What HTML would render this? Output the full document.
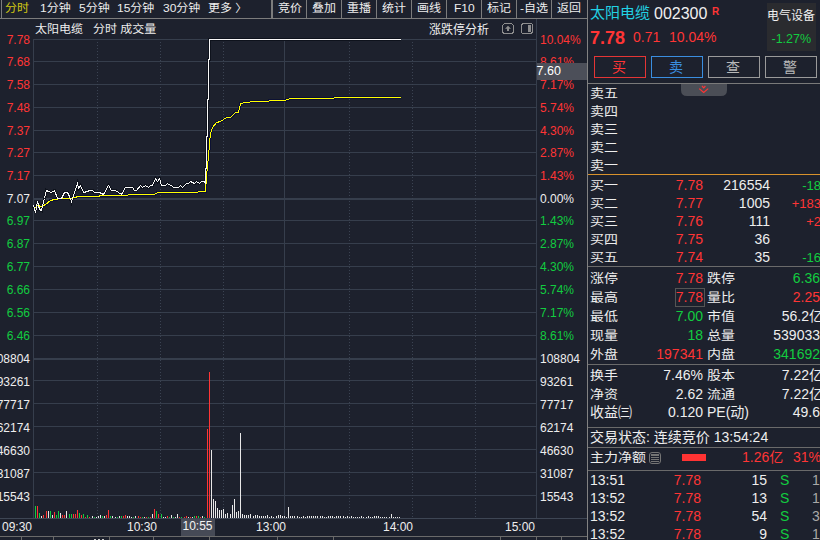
<!DOCTYPE html>
<html><head><meta charset="utf-8"><style>
html,body{margin:0;padding:0;background:#1d212d;}
body{width:820px;height:540px;position:relative;overflow:hidden;font-family:"Liberation Sans","Noto Sans CJK SC",sans-serif;}
.t{position:absolute;white-space:pre;line-height:1;}
.sqt{transform:scaleY(0.92);transform-origin:50% 0;}
.sqb{transform:scaleY(0.9);transform-origin:50% 100%;}
.sq{transform:translateY(0.7px) scaleY(0.86);transform-origin:50% 50%;}
</style></head><body>
<svg width="820" height="540" viewBox="0 0 820 540" style="position:absolute;left:0;top:0" shape-rendering="crispEdges"><rect x="0" y="18" width="587" height="1" fill="#7c7c7c" /><rect x="1" y="0" width="1" height="18" fill="#7c7c7c" /><rect x="271" y="0" width="2" height="18" fill="#7c7c7c" /><rect x="306" y="0" width="1" height="18" fill="#7c7c7c" /><rect x="341" y="0" width="1" height="18" fill="#7c7c7c" /><rect x="376" y="0" width="1" height="18" fill="#7c7c7c" /><rect x="411" y="0" width="1" height="18" fill="#7c7c7c" /><rect x="446" y="0" width="1" height="18" fill="#7c7c7c" /><rect x="481" y="0" width="1" height="18" fill="#7c7c7c" /><rect x="516" y="0" width="1" height="18" fill="#7c7c7c" /><rect x="551" y="0" width="1" height="18" fill="#7c7c7c" /><rect x="587" y="0" width="1" height="540" fill="#828282" /><rect x="33" y="39" width="503" height="1" fill="#363e4c" /><rect x="33" y="61" width="503" height="1" fill="#363e4c" /><rect x="33" y="84" width="503" height="1" fill="#363e4c" /><rect x="33" y="107" width="503" height="1" fill="#363e4c" /><rect x="33" y="130" width="503" height="1" fill="#363e4c" /><rect x="33" y="152" width="503" height="1" fill="#363e4c" /><rect x="33" y="175" width="503" height="1" fill="#363e4c" /><rect x="33" y="198" width="503" height="2" fill="#363e4c" /><rect x="33" y="220" width="503" height="1" fill="#363e4c" /><rect x="33" y="243" width="503" height="1" fill="#363e4c" /><rect x="33" y="266" width="503" height="1" fill="#363e4c" /><rect x="33" y="289" width="503" height="1" fill="#363e4c" /><rect x="33" y="312" width="503" height="1" fill="#363e4c" /><rect x="33" y="335" width="503" height="1" fill="#363e4c" /><rect x="33" y="358" width="503" height="2" fill="#363e4c" /><rect x="33" y="380" width="503" height="1" fill="#363e4c" /><rect x="33" y="403" width="503" height="1" fill="#363e4c" /><rect x="33" y="426" width="503" height="1" fill="#363e4c" /><rect x="33" y="449" width="503" height="1" fill="#363e4c" /><rect x="33" y="472" width="503" height="1" fill="#363e4c" /><rect x="33" y="495" width="503" height="1" fill="#363e4c" /><rect x="0" y="518" width="587" height="1" fill="#3e4654" /><rect x="33" y="39" width="1" height="479" fill="#363e4c" /><rect x="536" y="19" width="1" height="499" fill="#363e4c" /><line x1="97.5" y1="42" x2="97.5" y2="518" stroke="#3b4352" stroke-width="1" stroke-dasharray="1 2"/><line x1="160.5" y1="42" x2="160.5" y2="518" stroke="#3b4352" stroke-width="1" stroke-dasharray="1 2"/><line x1="223.5" y1="42" x2="223.5" y2="518" stroke="#3b4352" stroke-width="1" stroke-dasharray="1 2"/><line x1="349.5" y1="42" x2="349.5" y2="518" stroke="#3b4352" stroke-width="1" stroke-dasharray="1 2"/><line x1="412.5" y1="42" x2="412.5" y2="518" stroke="#3b4352" stroke-width="1" stroke-dasharray="1 2"/><line x1="475.5" y1="42" x2="475.5" y2="518" stroke="#3b4352" stroke-width="1" stroke-dasharray="1 2"/><rect x="284" y="39" width="1" height="479" fill="#363e4c" /><rect x="35" y="506" width="1" height="12" fill="#12cc40" /><rect x="37" y="506" width="1" height="12" fill="#ff3535" /><rect x="39" y="513" width="1" height="5" fill="#12cc40" /><rect x="41" y="516" width="1" height="2" fill="#e8e8e8" /><rect x="43" y="515" width="1" height="3" fill="#ff3535" /><rect x="46" y="511" width="1" height="7" fill="#ff3535" /><rect x="48" y="511" width="1" height="7" fill="#e8e8e8" /><rect x="50" y="511" width="1" height="7" fill="#12cc40" /><rect x="52" y="515" width="1" height="3" fill="#e8e8e8" /><rect x="54" y="512" width="1" height="6" fill="#ff3535" /><rect x="56" y="515" width="1" height="3" fill="#12cc40" /><rect x="58" y="511" width="1" height="7" fill="#12cc40" /><rect x="60" y="513" width="1" height="5" fill="#e8e8e8" /><rect x="62" y="515" width="1" height="3" fill="#ff3535" /><rect x="64" y="515" width="1" height="3" fill="#ff3535" /><rect x="66" y="511" width="1" height="7" fill="#e8e8e8" /><rect x="69" y="514" width="1" height="4" fill="#12cc40" /><rect x="71" y="514" width="1" height="4" fill="#12cc40" /><rect x="73" y="514" width="1" height="4" fill="#ff3535" /><rect x="75" y="514" width="1" height="4" fill="#ff3535" /><rect x="77" y="510" width="1" height="8" fill="#ff3535" /><rect x="79" y="513" width="1" height="5" fill="#12cc40" /><rect x="81" y="515" width="1" height="3" fill="#ff3535" /><rect x="83" y="514" width="1" height="4" fill="#12cc40" /><rect x="85" y="517" width="1" height="1" fill="#ff3535" /><rect x="87" y="515" width="1" height="3" fill="#12cc40" /><rect x="89" y="517" width="1" height="1" fill="#ff3535" /><rect x="92" y="516" width="1" height="2" fill="#e8e8e8" /><rect x="94" y="517" width="1" height="1" fill="#12cc40" /><rect x="96" y="517" width="1" height="1" fill="#e8e8e8" /><rect x="98" y="516" width="1" height="2" fill="#e8e8e8" /><rect x="100" y="515" width="1" height="3" fill="#e8e8e8" /><rect x="102" y="516" width="1" height="2" fill="#12cc40" /><rect x="104" y="516" width="1" height="2" fill="#e8e8e8" /><rect x="106" y="515" width="1" height="3" fill="#ff3535" /><rect x="108" y="510" width="1" height="8" fill="#ff3535" /><rect x="110" y="516" width="1" height="2" fill="#12cc40" /><rect x="112" y="516" width="1" height="2" fill="#e8e8e8" /><rect x="115" y="517" width="1" height="1" fill="#e8e8e8" /><rect x="117" y="517" width="1" height="1" fill="#12cc40" /><rect x="119" y="516" width="1" height="2" fill="#e8e8e8" /><rect x="121" y="516" width="1" height="2" fill="#12cc40" /><rect x="123" y="516" width="1" height="2" fill="#ff3535" /><rect x="125" y="515" width="1" height="3" fill="#ff3535" /><rect x="127" y="516" width="1" height="2" fill="#e8e8e8" /><rect x="129" y="516" width="1" height="2" fill="#e8e8e8" /><rect x="131" y="517" width="1" height="1" fill="#e8e8e8" /><rect x="133" y="517" width="1" height="1" fill="#12cc40" /><rect x="135" y="516" width="1" height="2" fill="#e8e8e8" /><rect x="138" y="516" width="1" height="2" fill="#ff3535" /><rect x="140" y="517" width="1" height="1" fill="#ff3535" /><rect x="142" y="517" width="1" height="1" fill="#12cc40" /><rect x="144" y="517" width="1" height="1" fill="#e8e8e8" /><rect x="146" y="517" width="1" height="1" fill="#ff3535" /><rect x="148" y="517" width="1" height="1" fill="#12cc40" /><rect x="150" y="517" width="1" height="1" fill="#ff3535" /><rect x="152" y="514" width="1" height="4" fill="#e8e8e8" /><rect x="154" y="509" width="1" height="9" fill="#ff3535" /><rect x="156" y="511" width="1" height="7" fill="#12cc40" /><rect x="158" y="514" width="1" height="4" fill="#ff3535" /><rect x="161" y="514" width="1" height="4" fill="#12cc40" /><rect x="163" y="517" width="1" height="1" fill="#e8e8e8" /><rect x="165" y="517" width="1" height="1" fill="#e8e8e8" /><rect x="167" y="516" width="1" height="2" fill="#ff3535" /><rect x="169" y="517" width="1" height="1" fill="#12cc40" /><rect x="171" y="515" width="1" height="3" fill="#e8e8e8" /><rect x="173" y="517" width="1" height="1" fill="#12cc40" /><rect x="175" y="517" width="1" height="1" fill="#e8e8e8" /><rect x="177" y="514" width="1" height="4" fill="#e8e8e8" /><rect x="179" y="517" width="1" height="1" fill="#ff3535" /><rect x="181" y="517" width="1" height="1" fill="#12cc40" /><rect x="184" y="517" width="1" height="1" fill="#ff3535" /><rect x="186" y="516" width="1" height="2" fill="#ff3535" /><rect x="188" y="517" width="1" height="1" fill="#e8e8e8" /><rect x="190" y="517" width="1" height="1" fill="#ff3535" /><rect x="192" y="517" width="1" height="1" fill="#e8e8e8" /><rect x="194" y="516" width="1" height="2" fill="#12cc40" /><rect x="196" y="516" width="1" height="2" fill="#ff3535" /><rect x="198" y="516" width="1" height="2" fill="#12cc40" /><rect x="200" y="517" width="1" height="1" fill="#ff3535" /><rect x="202" y="516" width="1" height="2" fill="#e8e8e8" /><rect x="204" y="517" width="1" height="1" fill="#12cc40" /><rect x="207" y="429" width="1" height="89" fill="#ff3535" /><rect x="209" y="372" width="1" height="146" fill="#ff3535" /><rect x="211" y="450" width="1" height="68" fill="#e8e8e8" /><rect x="213" y="499" width="1" height="19" fill="#e8e8e8" /><rect x="215" y="501" width="1" height="17" fill="#e8e8e8" /><rect x="217" y="508" width="1" height="10" fill="#e8e8e8" /><rect x="219" y="510" width="1" height="8" fill="#e8e8e8" /><rect x="221" y="510" width="1" height="8" fill="#e8e8e8" /><rect x="223" y="509" width="1" height="9" fill="#e8e8e8" /><rect x="225" y="514" width="1" height="4" fill="#e8e8e8" /><rect x="227" y="513" width="1" height="5" fill="#e8e8e8" /><rect x="230" y="514" width="1" height="4" fill="#e8e8e8" /><rect x="232" y="505" width="1" height="13" fill="#e8e8e8" /><rect x="234" y="499" width="1" height="19" fill="#e8e8e8" /><rect x="236" y="512" width="1" height="6" fill="#e8e8e8" /><rect x="238" y="511" width="1" height="7" fill="#e8e8e8" /><rect x="240" y="433" width="1" height="85" fill="#e8e8e8" /><rect x="242" y="514" width="1" height="4" fill="#e8e8e8" /><rect x="244" y="515" width="1" height="3" fill="#e8e8e8" /><rect x="246" y="515" width="1" height="3" fill="#e8e8e8" /><rect x="248" y="515" width="1" height="3" fill="#e8e8e8" /><rect x="250" y="514" width="1" height="4" fill="#e8e8e8" /><rect x="253" y="516" width="1" height="2" fill="#e8e8e8" /><rect x="255" y="515" width="1" height="3" fill="#e8e8e8" /><rect x="257" y="515" width="1" height="3" fill="#e8e8e8" /><rect x="259" y="516" width="1" height="2" fill="#e8e8e8" /><rect x="261" y="516" width="1" height="2" fill="#e8e8e8" /><rect x="263" y="516" width="1" height="2" fill="#e8e8e8" /><rect x="265" y="516" width="1" height="2" fill="#e8e8e8" /><rect x="267" y="515" width="1" height="3" fill="#e8e8e8" /><rect x="269" y="517" width="1" height="1" fill="#e8e8e8" /><rect x="271" y="516" width="1" height="2" fill="#e8e8e8" /><rect x="273" y="517" width="1" height="1" fill="#e8e8e8" /><rect x="276" y="516" width="1" height="2" fill="#e8e8e8" /><rect x="278" y="515" width="1" height="3" fill="#e8e8e8" /><rect x="280" y="515" width="1" height="3" fill="#e8e8e8" /><rect x="282" y="516" width="1" height="2" fill="#e8e8e8" /><rect x="284" y="516" width="1" height="2" fill="#e8e8e8" /><rect x="286" y="517" width="1" height="1" fill="#e8e8e8" /><rect x="288" y="507" width="1" height="11" fill="#e8e8e8" /><rect x="290" y="516" width="1" height="2" fill="#e8e8e8" /><rect x="292" y="516" width="1" height="2" fill="#e8e8e8" /><rect x="294" y="516" width="1" height="2" fill="#e8e8e8" /><rect x="297" y="516" width="1" height="2" fill="#e8e8e8" /><rect x="299" y="517" width="1" height="1" fill="#e8e8e8" /><rect x="301" y="517" width="1" height="1" fill="#e8e8e8" /><rect x="303" y="516" width="1" height="2" fill="#e8e8e8" /><rect x="305" y="517" width="1" height="1" fill="#e8e8e8" /><rect x="307" y="516" width="1" height="2" fill="#e8e8e8" /><rect x="309" y="516" width="1" height="2" fill="#e8e8e8" /><rect x="311" y="516" width="1" height="2" fill="#e8e8e8" /><rect x="313" y="516" width="1" height="2" fill="#e8e8e8" /><rect x="315" y="516" width="1" height="2" fill="#e8e8e8" /><rect x="317" y="516" width="1" height="2" fill="#e8e8e8" /><rect x="320" y="516" width="1" height="2" fill="#e8e8e8" /><rect x="322" y="516" width="1" height="2" fill="#e8e8e8" /><rect x="324" y="517" width="1" height="1" fill="#e8e8e8" /><rect x="326" y="517" width="1" height="1" fill="#e8e8e8" /><rect x="328" y="516" width="1" height="2" fill="#e8e8e8" /><rect x="330" y="516" width="1" height="2" fill="#e8e8e8" /><rect x="332" y="516" width="1" height="2" fill="#e8e8e8" /><rect x="334" y="517" width="1" height="1" fill="#e8e8e8" /><rect x="336" y="516" width="1" height="2" fill="#e8e8e8" /><rect x="338" y="516" width="1" height="2" fill="#e8e8e8" /><rect x="340" y="516" width="1" height="2" fill="#e8e8e8" /><rect x="343" y="516" width="1" height="2" fill="#e8e8e8" /><rect x="345" y="517" width="1" height="1" fill="#e8e8e8" /><rect x="347" y="516" width="1" height="2" fill="#e8e8e8" /><rect x="349" y="517" width="1" height="1" fill="#e8e8e8" /><rect x="351" y="516" width="1" height="2" fill="#e8e8e8" /><rect x="353" y="517" width="1" height="1" fill="#e8e8e8" /><rect x="355" y="517" width="1" height="1" fill="#e8e8e8" /><rect x="357" y="517" width="1" height="1" fill="#e8e8e8" /><rect x="359" y="517" width="1" height="1" fill="#e8e8e8" /><rect x="361" y="516" width="1" height="2" fill="#e8e8e8" /><rect x="363" y="517" width="1" height="1" fill="#e8e8e8" /><rect x="366" y="517" width="1" height="1" fill="#e8e8e8" /><rect x="368" y="516" width="1" height="2" fill="#e8e8e8" /><rect x="370" y="517" width="1" height="1" fill="#e8e8e8" /><rect x="372" y="517" width="1" height="1" fill="#e8e8e8" /><rect x="374" y="516" width="1" height="2" fill="#e8e8e8" /><rect x="376" y="516" width="1" height="2" fill="#e8e8e8" /><rect x="378" y="516" width="1" height="2" fill="#e8e8e8" /><rect x="380" y="517" width="1" height="1" fill="#e8e8e8" /><rect x="382" y="517" width="1" height="1" fill="#e8e8e8" /><rect x="384" y="517" width="1" height="1" fill="#e8e8e8" /><rect x="386" y="517" width="1" height="1" fill="#e8e8e8" /><rect x="389" y="517" width="1" height="1" fill="#e8e8e8" /><rect x="391" y="514" width="1" height="4" fill="#e8e8e8" /><rect x="393" y="517" width="1" height="1" fill="#e8e8e8" /><rect x="395" y="517" width="1" height="1" fill="#e8e8e8" /><rect x="397" y="517" width="1" height="1" fill="#e8e8e8" /><rect x="399" y="517" width="1" height="1" fill="#e8e8e8" /><polyline points="34.5,208.5 37.5,205.5 41.5,206.5 45.5,204.5 50.5,200.5 54.5,199.5 61.5,198.5 70.5,198.5 78.5,196.5 98.5,196.5 100.5,195.5 125.5,195.5 130.5,194.5 154.5,194.5 157.5,192.5 197.5,192.5 198.5,191.5 205.5,191.5 206.5,176.5 208.5,156.5 209.5,143.5 210.5,133.5 212.5,127.5 216.5,122.5 220.5,121.5 226.5,117.5 230.5,117.5 235.5,112.5 238.5,112.5 240.5,103.5 245.5,102.5 254.5,101.5 268.5,101.5 269.5,100.5 285.5,100.5 286.5,99.5 292.5,98.5 300.5,98.5 333.5,98.5 334.5,97.5 400.5,97.5" fill="none" stroke="#0c1133" stroke-width="3" class="ce"/><polyline points="33.5,205.5 35.5,212.5 37.5,201.5 39.5,209.5 41.5,210.5 42.5,205.5 44.5,198.5 46.5,190.5 48.5,191.5 51.5,192.5 54.5,190.5 57.5,198.5 61.5,198.5 64.5,192.5 67.5,192.5 69.5,196.5 71.5,201.5 73.5,195.5 77.5,183.5 78.5,188.5 80.5,185.5 83.5,192.5 87.5,191.5 89.5,190.5 92.5,190.5 94.5,192.5 99.5,192.5 103.5,194.5 108.5,185.5 111.5,190.5 115.5,190.5 121.5,194.5 125.5,187.5 132.5,187.5 134.5,190.5 136.5,190.5 140.5,185.5 142.5,187.5 145.5,185.5 148.5,187.5 150.5,185.5 152.5,185.5 155.5,178.5 157.5,181.5 159.5,178.5 161.5,185.5 165.5,185.5 167.5,183.5 170.5,185.5 171.5,185.5 173.5,187.5 178.5,187.5 180.5,185.5 182.5,187.5 186.5,183.5 188.5,183.5 190.5,181.5 194.5,183.5 196.5,181.5 199.5,183.5 201.5,181.5 204.5,181.5 205.5,183.5 205.5,168.5 206.5,168.5 206.5,136.5 207.5,136.5 207.5,99.5 208.5,99.5 208.5,59.5 209.5,59.5 209.5,39.5 400.5,39.5" fill="none" stroke="#0e121c" stroke-width="3" class="ce"/><polyline points="34.5,208.5 37.5,205.5 41.5,206.5 45.5,204.5 50.5,200.5 54.5,199.5 61.5,198.5 70.5,198.5 78.5,196.5 98.5,196.5 100.5,195.5 125.5,195.5 130.5,194.5 154.5,194.5 157.5,192.5 197.5,192.5 198.5,191.5 205.5,191.5 206.5,176.5 208.5,156.5 209.5,143.5 210.5,133.5 212.5,127.5 216.5,122.5 220.5,121.5 226.5,117.5 230.5,117.5 235.5,112.5 238.5,112.5 240.5,103.5 245.5,102.5 254.5,101.5 268.5,101.5 269.5,100.5 285.5,100.5 286.5,99.5 292.5,98.5 300.5,98.5 333.5,98.5 334.5,97.5 400.5,97.5" fill="none" stroke="#ffff00" stroke-width="1" class="ce"/><polyline points="33.5,205.5 35.5,212.5 37.5,201.5 39.5,209.5 41.5,210.5 42.5,205.5 44.5,198.5 46.5,190.5 48.5,191.5 51.5,192.5 54.5,190.5 57.5,198.5 61.5,198.5 64.5,192.5 67.5,192.5 69.5,196.5 71.5,201.5 73.5,195.5 77.5,183.5 78.5,188.5 80.5,185.5 83.5,192.5 87.5,191.5 89.5,190.5 92.5,190.5 94.5,192.5 99.5,192.5 103.5,194.5 108.5,185.5 111.5,190.5 115.5,190.5 121.5,194.5 125.5,187.5 132.5,187.5 134.5,190.5 136.5,190.5 140.5,185.5 142.5,187.5 145.5,185.5 148.5,187.5 150.5,185.5 152.5,185.5 155.5,178.5 157.5,181.5 159.5,178.5 161.5,185.5 165.5,185.5 167.5,183.5 170.5,185.5 171.5,185.5 173.5,187.5 178.5,187.5 180.5,185.5 182.5,187.5 186.5,183.5 188.5,183.5 190.5,181.5 194.5,183.5 196.5,181.5 199.5,183.5 201.5,181.5 204.5,181.5 205.5,183.5 205.5,168.5 206.5,168.5 206.5,136.5 207.5,136.5 207.5,99.5 208.5,99.5 208.5,59.5 209.5,59.5 209.5,39.5 400.5,39.5" fill="none" stroke="#f8f8f8" stroke-width="1" class="ce"/><rect x="767" y="3" width="49" height="48" fill="#2a2b2f" /><rect x="594.5" y="56.5" width="51" height="21" fill="none" stroke="#e53535" stroke-width="1"/><rect x="651.5" y="56.5" width="51" height="21" fill="none" stroke="#3a8ee0" stroke-width="1"/><rect x="708.5" y="56.5" width="51" height="21" fill="none" stroke="#9a9a9a" stroke-width="1"/><rect x="765.5" y="56.5" width="51" height="21" fill="none" stroke="#9a9a9a" stroke-width="1"/><rect x="588" y="83" width="232" height="1" fill="#7a7a7a" /><path shape-rendering="geometricPrecision" d="M681,84 H727 V90 Q727,96 721,96 H687 Q681,96 681,90 Z" fill="#4b4e56"/><path shape-rendering="geometricPrecision" d="M702,86 L703.7,87.8 L705.4,86 M699.2,88.6 L703.7,92.4 L708.2,88.6" fill="none" stroke="#ff3535" stroke-width="1.2"/><rect x="588" y="174" width="232" height="1" fill="#d8922c" /><rect x="588" y="266" width="232" height="1" fill="#6a6a6a" /><rect x="588" y="364" width="232" height="1" fill="#6a6a6a" /><rect x="588" y="427" width="232" height="1" fill="#6a6a6a" /><rect x="588" y="447" width="232" height="1" fill="#6a6a6a" /><rect x="588" y="470" width="232" height="1" fill="#6a6a6a" /><rect x="675.5" y="288.5" width="29" height="18" fill="none" stroke="#555555" stroke-width="1"/><rect x="649.5" y="452.5" width="11" height="11" rx="2.5" fill="none" stroke="#747474" stroke-width="1" shape-rendering="geometricPrecision"/><rect x="651" y="454" width="8" height="2" fill="#747474" /><rect x="651" y="457" width="8" height="1" fill="#747474" /><rect x="651" y="459" width="8" height="1" fill="#747474" /><rect x="651" y="461" width="8" height="1" fill="#747474" /><rect x="682" y="454" width="24" height="7" fill="#ff3333" /><rect x="181" y="519" width="34" height="17" fill="#464a56" /><rect x="0" y="536" width="587" height="1" fill="#6a6a6a" /><rect x="21" y="537" width="1" height="3" fill="#6a6a6a" /><rect x="53" y="537" width="1" height="3" fill="#6a6a6a" /><rect x="109" y="537" width="1" height="3" fill="#6a6a6a" /><rect x="153" y="537" width="1" height="3" fill="#6a6a6a" /><rect x="209" y="537" width="1" height="3" fill="#6a6a6a" /><rect x="277" y="537" width="1" height="3" fill="#6a6a6a" /><rect x="333" y="537" width="1" height="3" fill="#6a6a6a" /><rect x="500" y="537" width="1" height="3" fill="#6a6a6a" /><rect x="536" y="537" width="1" height="3" fill="#6a6a6a" /><rect x="561" y="537" width="1" height="3" fill="#6a6a6a" /><rect x="94" y="539" width="2" height="1" fill="#cfcfcf" /><rect x="98" y="539" width="2" height="1" fill="#cfcfcf" /><rect x="102" y="539" width="2" height="1" fill="#cfcfcf" /><rect x="502.5" y="23.5" width="11" height="10" rx="3" fill="none" stroke="#8e8e8e" stroke-width="1"/><path shape-rendering="geometricPrecision" d="M505,28.8 L508,25.8 L511,28.8 Z M507,28.5 H509 V31 H507 Z" fill="#8e8e8e"/><rect x="521.5" y="23.5" width="11" height="10" rx="2.5" fill="none" stroke="#8e8e8e" stroke-width="1"/><rect x="528" y="25" width="2.5" height="7" fill="#8e8e8e" /></svg>
<div class="t sqt" style="left:5px;top:2.5px;font-size:12px;color:#d2c812;">分时</div><div class="t sqt" style="left:40px;top:2.5px;font-size:12px;color:#eeeeee;">1分钟</div><div class="t sqt" style="left:79px;top:2.5px;font-size:12px;color:#eeeeee;">5分钟</div><div class="t sqt" style="left:117px;top:2.5px;font-size:12px;color:#eeeeee;">15分钟</div><div class="t sqt" style="left:163px;top:2.5px;font-size:12px;color:#eeeeee;">30分钟</div><div class="t sqt" style="left:208px;top:2.5px;font-size:12px;color:#eeeeee;">更多 〉</div><div class="t sqt" style="left:278px;top:2.5px;font-size:12px;color:#eeeeee;">竞价</div><div class="t sqt" style="left:312px;top:2.5px;font-size:12px;color:#eeeeee;">叠加</div><div class="t sqt" style="left:347px;top:2.5px;font-size:12px;color:#eeeeee;">重播</div><div class="t sqt" style="left:382px;top:2.5px;font-size:12px;color:#eeeeee;">统计</div><div class="t sqt" style="left:417px;top:2.5px;font-size:12px;color:#eeeeee;">画线</div><div class="t sqt" style="left:454px;top:2.5px;font-size:12px;color:#eeeeee;">F10</div><div class="t sqt" style="left:487px;top:2.5px;font-size:12px;color:#eeeeee;">标记</div><div class="t sqt" style="left:520px;top:2.5px;font-size:12px;color:#eeeeee;">-自选</div><div class="t sqt" style="left:557px;top:2.5px;font-size:12px;color:#eeeeee;">返回</div><div class="t sqb" style="left:35px;top:23px;font-size:12px;color:#eeeeee;">太阳电缆</div><div class="t sqb" style="left:93px;top:23px;font-size:12px;color:#eeeeee;">分时 成交量</div><div class="t " style="left:429px;top:24px;font-size:12px;color:#eeeeee;">涨跌停分析</div><div class="t " style="right:790px;top:34px;font-size:12px;color:#ff3535;text-align:right;">7.78</div><div class="t " style="left:540px;top:34px;font-size:12px;color:#ff3535;">10.04%</div><div class="t " style="right:790px;top:56px;font-size:12px;color:#ff3535;text-align:right;">7.68</div><div class="t " style="left:540px;top:56px;font-size:12px;color:#ff3535;">8.61%</div><div class="t " style="right:790px;top:79px;font-size:12px;color:#ff3535;text-align:right;">7.58</div><div class="t " style="left:540px;top:79px;font-size:12px;color:#ff3535;">7.17%</div><div class="t " style="right:790px;top:102px;font-size:12px;color:#ff3535;text-align:right;">7.48</div><div class="t " style="left:540px;top:102px;font-size:12px;color:#ff3535;">5.74%</div><div class="t " style="right:790px;top:125px;font-size:12px;color:#ff3535;text-align:right;">7.37</div><div class="t " style="left:540px;top:125px;font-size:12px;color:#ff3535;">4.30%</div><div class="t " style="right:790px;top:147px;font-size:12px;color:#ff3535;text-align:right;">7.27</div><div class="t " style="left:540px;top:147px;font-size:12px;color:#ff3535;">2.87%</div><div class="t " style="right:790px;top:170px;font-size:12px;color:#ff3535;text-align:right;">7.17</div><div class="t " style="left:540px;top:170px;font-size:12px;color:#ff3535;">1.43%</div><div class="t " style="right:790px;top:193px;font-size:12px;color:#eeeeee;text-align:right;">7.07</div><div class="t " style="left:540px;top:193px;font-size:12px;color:#eeeeee;">0.00%</div><div class="t " style="right:790px;top:215px;font-size:12px;color:#12cc40;text-align:right;">6.97</div><div class="t " style="left:540px;top:215px;font-size:12px;color:#12cc40;">1.43%</div><div class="t " style="right:790px;top:238px;font-size:12px;color:#12cc40;text-align:right;">6.87</div><div class="t " style="left:540px;top:238px;font-size:12px;color:#12cc40;">2.87%</div><div class="t " style="right:790px;top:261px;font-size:12px;color:#12cc40;text-align:right;">6.77</div><div class="t " style="left:540px;top:261px;font-size:12px;color:#12cc40;">4.30%</div><div class="t " style="right:790px;top:284px;font-size:12px;color:#12cc40;text-align:right;">6.66</div><div class="t " style="left:540px;top:284px;font-size:12px;color:#12cc40;">5.74%</div><div class="t " style="right:790px;top:307px;font-size:12px;color:#12cc40;text-align:right;">6.56</div><div class="t " style="left:540px;top:307px;font-size:12px;color:#12cc40;">7.17%</div><div class="t " style="right:790px;top:330px;font-size:12px;color:#12cc40;text-align:right;">6.46</div><div class="t " style="left:540px;top:330px;font-size:12px;color:#12cc40;">8.61%</div><div class="t " style="right:790px;top:353px;font-size:12px;color:#eeeeee;text-align:right;">108804</div><div class="t " style="left:540px;top:353px;font-size:12px;color:#eeeeee;">108804</div><div class="t " style="right:790px;top:376px;font-size:12px;color:#eeeeee;text-align:right;">93261</div><div class="t " style="left:540px;top:376px;font-size:12px;color:#eeeeee;">93261</div><div class="t " style="right:790px;top:399px;font-size:12px;color:#eeeeee;text-align:right;">77717</div><div class="t " style="left:540px;top:399px;font-size:12px;color:#eeeeee;">77717</div><div class="t " style="right:790px;top:422px;font-size:12px;color:#eeeeee;text-align:right;">62174</div><div class="t " style="left:540px;top:422px;font-size:12px;color:#eeeeee;">62174</div><div class="t " style="right:790px;top:445px;font-size:12px;color:#eeeeee;text-align:right;">46630</div><div class="t " style="left:540px;top:445px;font-size:12px;color:#eeeeee;">46630</div><div class="t " style="right:790px;top:468px;font-size:12px;color:#eeeeee;text-align:right;">31087</div><div class="t " style="left:540px;top:468px;font-size:12px;color:#eeeeee;">31087</div><div class="t " style="right:790px;top:491px;font-size:12px;color:#eeeeee;text-align:right;">15543</div><div class="t " style="left:540px;top:491px;font-size:12px;color:#eeeeee;">15543</div><div style="position:absolute;left:537px;top:63px;width:50px;height:17px;background:#4c4f59"></div><div class="t " style="left:536.5px;top:65px;font-size:12.5px;color:#ffffff;">7.60</div><div class="t " style="left:2px;top:521px;font-size:12px;color:#eeeeee;">09:30</div><div class="t " style="left:127px;top:521px;font-size:12px;color:#eeeeee;">10:30</div><div class="t " style="left:256px;top:521px;font-size:12px;color:#eeeeee;">13:00</div><div class="t " style="left:383px;top:521px;font-size:12px;color:#eeeeee;">14:00</div><div class="t " style="left:505px;top:521px;font-size:12px;color:#eeeeee;">15:00</div><div class="t " style="left:182.5px;top:520px;font-size:12px;color:#f4f4f4;">10:55</div><div class="t " style="left:590px;top:5px;font-size:15px;color:#22d2e4;">太阳电缆</div><div class="t " style="left:654px;top:6px;font-size:16px;color:#f0f0f0;">002300</div><div class="t " style="left:712px;top:7px;font-size:10px;color:#ff3535;font-weight:bold">R</div><div class="t " style="left:590px;top:29px;font-size:18px;color:#ff3535;font-weight:bold">7.78</div><div class="t " style="left:633px;top:30px;font-size:14px;color:#ff3535;">0.71</div><div class="t " style="left:669px;top:30px;font-size:14px;color:#ff3535;">10.04%</div><div class="t " style="left:767px;top:10px;font-size:12px;color:#f0f0f0;">电气设备</div><div class="t " style="left:771.5px;top:33px;font-size:12.5px;color:#12cc40;">-1.27%</div><div class="t " style="left:612px;top:60px;font-size:14px;color:#ff3535;">买</div><div class="t " style="left:669px;top:60px;font-size:14px;color:#3a8ee0;">卖</div><div class="t " style="left:726px;top:60px;font-size:14px;color:#b8b8b8;">查</div><div class="t " style="left:783px;top:60px;font-size:14px;color:#b8b8b8;">警</div><div class="t sq" style="left:590px;top:86px;font-size:14px;color:#eeeeee;">卖五</div><div class="t sq" style="left:590px;top:104px;font-size:14px;color:#eeeeee;">卖四</div><div class="t sq" style="left:590px;top:122px;font-size:14px;color:#eeeeee;">卖三</div><div class="t sq" style="left:590px;top:140px;font-size:14px;color:#eeeeee;">卖二</div><div class="t sq" style="left:590px;top:158px;font-size:14px;color:#eeeeee;">卖一</div><div class="t sq" style="left:590px;top:178px;font-size:14px;color:#eeeeee;">买一</div><div class="t " style="right:117px;top:178px;font-size:14px;color:#ff3535;text-align:right;">7.78</div><div class="t " style="right:50px;top:178px;font-size:14px;color:#eeeeee;text-align:right;">216554</div><div class="t " style="right:-1px;top:179px;font-size:13px;color:#12cc40;text-align:right;">-18</div><div class="t sq" style="left:590px;top:196px;font-size:14px;color:#eeeeee;">买二</div><div class="t " style="right:117px;top:196px;font-size:14px;color:#ff3535;text-align:right;">7.77</div><div class="t " style="right:50px;top:196px;font-size:14px;color:#eeeeee;text-align:right;">1005</div><div class="t " style="right:-1px;top:197px;font-size:13px;color:#ff3535;text-align:right;">+183</div><div class="t sq" style="left:590px;top:214px;font-size:14px;color:#eeeeee;">买三</div><div class="t " style="right:117px;top:214px;font-size:14px;color:#ff3535;text-align:right;">7.76</div><div class="t " style="right:50px;top:214px;font-size:14px;color:#eeeeee;text-align:right;">111</div><div class="t " style="right:-1px;top:215px;font-size:13px;color:#ff3535;text-align:right;">+2</div><div class="t sq" style="left:590px;top:232px;font-size:14px;color:#eeeeee;">买四</div><div class="t " style="right:117px;top:232px;font-size:14px;color:#ff3535;text-align:right;">7.75</div><div class="t " style="right:50px;top:232px;font-size:14px;color:#eeeeee;text-align:right;">36</div><div class="t sq" style="left:590px;top:250px;font-size:14px;color:#eeeeee;">买五</div><div class="t " style="right:117px;top:250px;font-size:14px;color:#ff3535;text-align:right;">7.74</div><div class="t " style="right:50px;top:250px;font-size:14px;color:#eeeeee;text-align:right;">35</div><div class="t " style="right:-1px;top:251px;font-size:13px;color:#12cc40;text-align:right;">-16</div><div class="t sq" style="left:590px;top:271px;font-size:14px;color:#eeeeee;">涨停</div><div class="t " style="right:117px;top:271px;font-size:14px;color:#ff3535;text-align:right;">7.78</div><div class="t sq" style="left:707px;top:271px;font-size:14px;color:#eeeeee;">跌停</div><div class="t " style="right:0px;top:271px;font-size:14px;color:#12cc40;text-align:right;">6.36</div><div class="t sq" style="left:590px;top:290px;font-size:14px;color:#eeeeee;">最高</div><div class="t " style="right:117px;top:290px;font-size:14px;color:#ff3535;text-align:right;">7.78</div><div class="t sq" style="left:707px;top:290px;font-size:14px;color:#eeeeee;">量比</div><div class="t " style="right:0px;top:290px;font-size:14px;color:#ff3535;text-align:right;">2.25</div><div class="t sq" style="left:590px;top:309px;font-size:14px;color:#eeeeee;">最低</div><div class="t " style="right:117px;top:309px;font-size:14px;color:#12cc40;text-align:right;">7.00</div><div class="t sq" style="left:707px;top:309px;font-size:14px;color:#eeeeee;">市值</div><div class="t " style="right:-3px;top:309px;font-size:14px;color:#eeeeee;text-align:right;">56.2亿</div><div class="t sq" style="left:590px;top:328px;font-size:14px;color:#eeeeee;">现量</div><div class="t " style="right:117px;top:328px;font-size:14px;color:#12cc40;text-align:right;">18</div><div class="t sq" style="left:707px;top:328px;font-size:14px;color:#eeeeee;">总量</div><div class="t " style="right:0px;top:328px;font-size:14px;color:#eeeeee;text-align:right;">539033</div><div class="t sq" style="left:590px;top:347px;font-size:14px;color:#eeeeee;">外盘</div><div class="t " style="right:117px;top:347px;font-size:14px;color:#ff3535;text-align:right;">197341</div><div class="t sq" style="left:707px;top:347px;font-size:14px;color:#eeeeee;">内盘</div><div class="t " style="right:0px;top:347px;font-size:14px;color:#12cc40;text-align:right;">341692</div><div class="t sq" style="left:590px;top:368.0px;font-size:14px;color:#eeeeee;">换手</div><div class="t " style="right:117px;top:368.0px;font-size:14px;color:#eeeeee;text-align:right;">7.46%</div><div class="t sq" style="left:707px;top:368.0px;font-size:14px;color:#eeeeee;">股本</div><div class="t " style="right:-3px;top:368.0px;font-size:14px;color:#eeeeee;text-align:right;">7.22亿</div><div class="t sq" style="left:590px;top:386.5px;font-size:14px;color:#eeeeee;">净资</div><div class="t " style="right:117px;top:386.5px;font-size:14px;color:#eeeeee;text-align:right;">2.62</div><div class="t sq" style="left:707px;top:386.5px;font-size:14px;color:#eeeeee;">流通</div><div class="t " style="right:-3px;top:386.5px;font-size:14px;color:#eeeeee;text-align:right;">7.22亿</div><div class="t " style="left:590px;top:405.0px;font-size:14px;color:#eeeeee;">收益㈢</div><div class="t " style="right:117px;top:405.0px;font-size:14px;color:#eeeeee;text-align:right;">0.120</div><div class="t " style="left:707px;top:405.0px;font-size:14px;color:#eeeeee;">PE(动)</div><div class="t " style="right:0px;top:405.0px;font-size:14px;color:#eeeeee;text-align:right;">49.6</div><div class="t " style="left:590px;top:430px;font-size:14px;color:#eeeeee;">交易状态: 连续竞价 13:54:24</div><div class="t sq" style="left:590px;top:450px;font-size:14px;color:#eeeeee;">主力净额</div><div class="t " style="left:742px;top:450px;font-size:14px;color:#ff3535;">1.26亿</div><div class="t " style="left:793px;top:450px;font-size:14px;color:#ff3535;">31%</div><div class="t " style="left:590px;top:473px;font-size:14px;color:#eeeeee;">13:51</div><div class="t " style="right:119px;top:473px;font-size:14px;color:#ff3535;text-align:right;">7.78</div><div class="t " style="right:53px;top:473px;font-size:14px;color:#eeeeee;text-align:right;">15</div><div class="t " style="left:780px;top:473px;font-size:14px;color:#12cc40;">S</div><div class="t " style="left:812px;top:473px;font-size:14px;color:#a8a8a8;">1</div><div class="t " style="left:590px;top:491px;font-size:14px;color:#eeeeee;">13:52</div><div class="t " style="right:119px;top:491px;font-size:14px;color:#ff3535;text-align:right;">7.78</div><div class="t " style="right:53px;top:491px;font-size:14px;color:#eeeeee;text-align:right;">13</div><div class="t " style="left:780px;top:491px;font-size:14px;color:#12cc40;">S</div><div class="t " style="left:812px;top:491px;font-size:14px;color:#a8a8a8;">1</div><div class="t " style="left:590px;top:509px;font-size:14px;color:#eeeeee;">13:52</div><div class="t " style="right:119px;top:509px;font-size:14px;color:#ff3535;text-align:right;">7.78</div><div class="t " style="right:53px;top:509px;font-size:14px;color:#eeeeee;text-align:right;">54</div><div class="t " style="left:780px;top:509px;font-size:14px;color:#12cc40;">S</div><div class="t " style="left:812px;top:509px;font-size:14px;color:#a8a8a8;">3</div><div class="t " style="left:590px;top:527px;font-size:14px;color:#eeeeee;">13:52</div><div class="t " style="right:119px;top:527px;font-size:14px;color:#ff3535;text-align:right;">7.78</div><div class="t " style="right:53px;top:527px;font-size:14px;color:#eeeeee;text-align:right;">9</div><div class="t " style="left:780px;top:527px;font-size:14px;color:#12cc40;">S</div><div class="t " style="left:812px;top:527px;font-size:14px;color:#a8a8a8;">1</div>
</body></html>
